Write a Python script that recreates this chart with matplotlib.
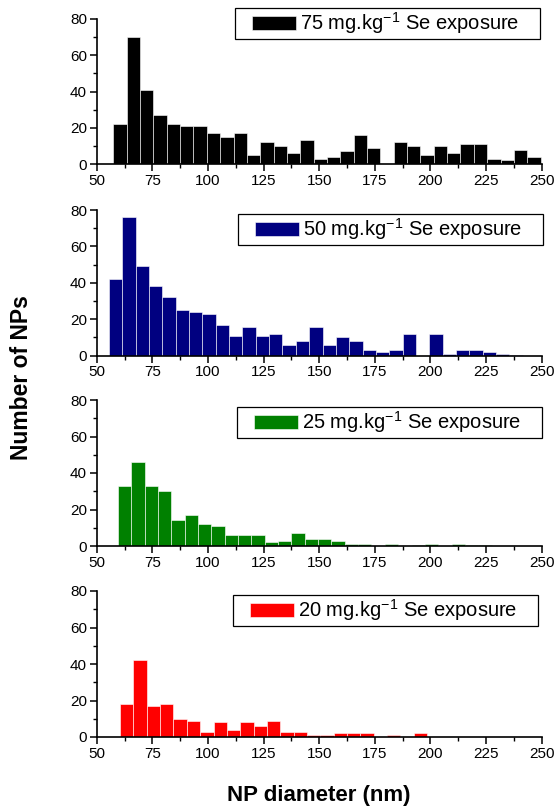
import numpy as np
import matplotlib
matplotlib.use('Agg')
import matplotlib.pyplot as plt
from matplotlib.path import Path
from matplotlib.ticker import MultipleLocator

plt.rcParams['font.family'] = ['Liberation Sans', 'DejaVu Sans']
plt.rcParams['mathtext.default'] = 'regular'

# histogram data: counts per 6 nm bin, first bin left edge given per dose
bin_width = 6
labels = ['75 mg.kg$^{-1}$ Se exposure', '50 mg.kg$^{-1}$ Se exposure',
          '25 mg.kg$^{-1}$ Se exposure', '20 mg.kg$^{-1}$ Se exposure']
colors = ['#000000', '#000080', '#008000', '#ff0000']
bin_start = [57.5, 55.5, 59.5, 60.5]

counts_75 = [22, 70, 41, 27, 22, 21, 21, 17, 15, 17, 5, 12, 10, 6, 13, 3,
             4, 7, 16, 9, 0, 12, 10, 5, 10, 6, 11, 11, 3, 2, 8, 4]
counts_50 = [42, 76, 49, 38, 32, 25, 24, 23, 17, 11, 16, 11, 12, 6, 8, 16,
             6, 10, 8, 3, 2, 3, 12, 0, 12, 1, 3, 3, 2, 1, 0.5]
counts_25 = [33, 46, 33, 30, 14, 17, 12, 11, 6, 6, 6, 2, 3, 7, 4, 4,
             3, 1, 1, 0, 1, 0, 0.3, 1, 0, 1, 0.3, 0.3]
counts_20 = [18, 42, 17, 18, 10, 9, 3, 8, 4, 8, 6, 9, 3, 3, 1, 1,
             2, 2, 2, 0, 1, 0, 2, 0, 0]
all_counts = [counts_75, counts_50, counts_25, counts_20]

xticks = [50, 75, 100, 125, 150, 175, 200, 225, 250]
yticks = [0, 20, 40, 60, 80]


def wide_box(x0, y0, width, height, mutation_size):
    # legend frame with more room left/right than top/bottom
    x1 = x0 + width + 0.9 * mutation_size
    y1 = y0 + height
    x0 = x0 - 0.7 * mutation_size
    return Path([(x0, y0), (x1, y0), (x1, y1), (x0, y1), (x0, y0)],
                [Path.MOVETO, Path.LINETO, Path.LINETO, Path.LINETO, Path.CLOSEPOLY])


fig = plt.figure(figsize=(5.58, 8.10), dpi=100)
W, H = 558, 810
ax_left, ax_right = 96.7, 541.7
zero_px = [164, 355.7, 546, 737]
top_px = [19, 210, 400, 591]
leg_right_px = [522, 525, 524, 520]
leg_top_px = [8, 214, 407, 595]

for i in range(4):
    ax = fig.add_axes([ax_left / W, 1 - zero_px[i] / H,
                       (ax_right - ax_left) / W, (zero_px[i] - top_px[i]) / H])
    c = all_counts[i]
    x = bin_start[i] + bin_width * np.arange(len(c))
    ax.bar(x, c, width=bin_width, align='edge', color=colors[i],
           edgecolor='white', linewidth=0.4, label=labels[i])
    ax.set_xlim(50, 250)
    ax.set_ylim(0, 80)
    ax.set_xticks(xticks)
    ax.set_yticks(yticks)
    ax.xaxis.set_minor_locator(MultipleLocator(12.5))
    ax.yaxis.set_minor_locator(MultipleLocator(10))
    for s in ['top', 'right']:
        ax.spines[s].set_visible(False)
    for s in ['left', 'bottom']:
        ax.spines[s].set_linewidth(1.2)
    ax.tick_params(which='major', direction='out', length=5, width=1.1, labelsize=11, pad=2)
    ax.tick_params(which='minor', direction='out', length=3, width=1.0)
    leg = ax.legend(loc='upper right', bbox_to_anchor=(leg_right_px[i] / W, 1 - leg_top_px[i] / H),
                    bbox_transform=fig.transFigure, borderaxespad=0, fontsize=14.5,
                    fancybox=False, edgecolor='black', framealpha=1,
                    handlelength=2.2, handleheight=0.65, handletextpad=0.2, borderpad=0.12)
    leg.get_frame().set_linewidth(0.9)
    leg.get_frame().set_boxstyle(wide_box)

fig.text(319 / W, 1 - 795 / H, 'NP diameter (nm)', ha='center', va='center',
         fontsize=16, fontweight='bold')
fig.text(22 / W, 1 - 378 / H, 'Number of NPs', ha='center', va='center',
         rotation=90, fontsize=16.5, fontweight='bold')

fig.savefig('out.png', dpi=100)
